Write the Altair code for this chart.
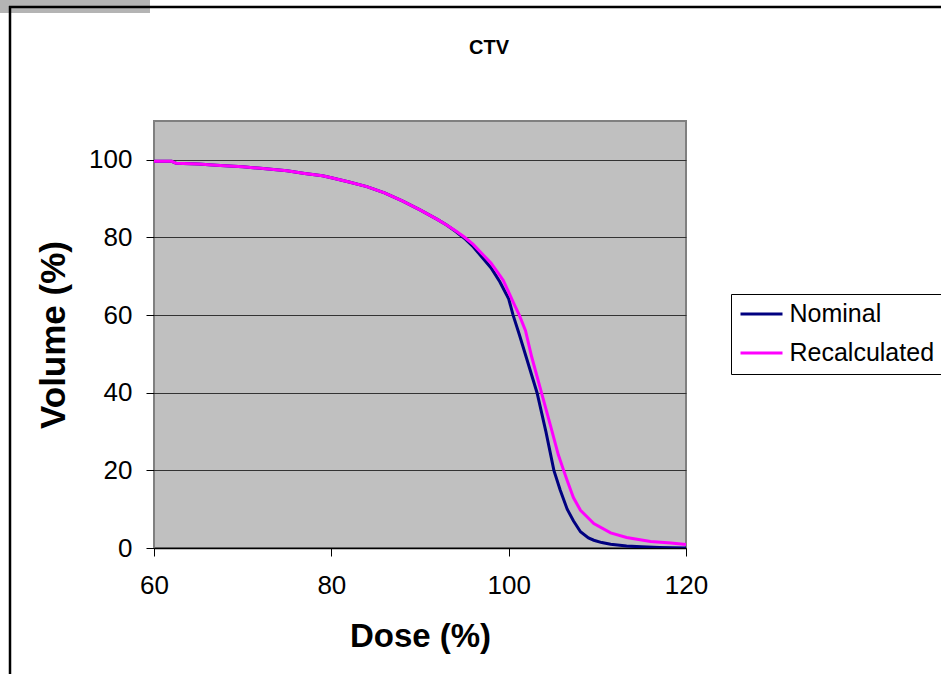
import altair as alt
import pandas as pd

# ---- data ----
nominal_dose = [60, 62, 62.5, 65, 67, 70, 72, 75, 77, 79, 80, 82, 84, 86, 88, 90, 92, 93, 94, 95,
                96, 97, 98, 99, 100, 100.5, 101.2, 102.0, 103.2, 104.2, 105.1, 105.8, 106.6, 107.3,
                108.1, 109.0, 109.6, 110.5, 111.5, 113.3, 115, 117, 118.5, 120]
nominal_vol = [99.6, 99.6, 99.1, 98.9, 98.6, 98.2, 97.8, 97.2, 96.5, 95.9, 95.4, 94.3, 93.1, 91.5,
               89.4, 87.1, 84.6, 83.2, 81.6, 79.8, 77.6, 74.9, 72.2, 68.6, 64.2, 60.0, 55.0, 49.0,
               40.0, 30.0, 20.0, 15.0, 10.0, 7.0, 4.2, 2.6, 2.0, 1.4, 0.95, 0.5, 0.3, 0.15, 0.05, 0.0]

recalc_dose = [60, 62, 62.5, 65, 67, 70, 72, 75, 77, 79, 80, 82, 84, 86, 88, 90, 92, 93, 94, 95,
               96, 97, 98, 99, 99.4, 100.6, 101.2, 101.9, 102.6, 103.7, 104.9, 105.6, 106.2, 106.6,
               107.3, 108.1, 109.6, 111.5, 113.3, 116.0, 118.3, 120]
recalc_vol = [99.6, 99.6, 99.1, 98.9, 98.6, 98.2, 97.8, 97.2, 96.5, 95.9, 95.4, 94.3, 93.1, 91.5,
              89.4, 87.1, 84.6, 83.2, 81.7, 80.1, 78.2, 75.8, 73.4, 70.2, 68.9, 62.9, 60.0, 56.0,
              49.2, 40.0, 30.0, 24.0, 20.0, 17.4, 13.0, 9.7, 6.3, 3.9, 2.7, 1.7, 1.3, 0.9]

series_names = ["Nominal", "Recalculated"]
series_colors = ["#000080", "#FF00FF"]
x_ticks = [60, 80, 100, 120]
y_ticks = [0, 20, 40, 60, 80, 100]
chart_title = "CTV"

df = pd.concat([
    pd.DataFrame({"dose": nominal_dose, "vol": nominal_vol, "series": "Nominal", "ord": range(len(nominal_dose))}),
    pd.DataFrame({"dose": recalc_dose, "vol": recalc_vol, "series": "Recalculated", "ord": range(len(recalc_dose))}),
])

FONT = "Liberation Sans"
W, H = 532, 427

lines = alt.Chart(df).mark_line(strokeWidth=3, clip=True).encode(
    x=alt.X("dose:Q", scale=alt.Scale(domain=[60, 120], nice=False, zero=False),
            axis=alt.Axis(values=x_ticks, title="Dose (%)", grid=False,
                          domain=True, domainColor="black", domainWidth=1.5,
                          tickColor="black", tickSize=8, tickWidth=1,
                          labelFont=FONT, labelFontSize=26, labelColor="black", labelPadding=16,
                          labelFlush=False, labelOverlap=False,
                          titleFont=FONT, titleFontSize=33, titleFontWeight="bold", titleColor="black",
                          titleX=W / 2, titleY=88, titleBaseline="middle", titleAlign="center")),
    y=alt.Y("vol:Q", scale=alt.Scale(domain=[0, 110], nice=False),
            axis=alt.Axis(values=y_ticks, title="Volume (%)", grid=True, gridColor="#333333", gridWidth=1,
                          domain=False, tickColor="black", tickSize=8, tickWidth=1,
                          labelFont=FONT, labelFontSize=26, labelColor="black", labelPadding=14,
                          labelFlush=False, labelOverlap=False,
                          titleFont=FONT, titleFontSize=35, titleFontWeight="bold", titleColor="black",
                          titleAngle=-90, titleX=-101, titleY=H / 2, titleBaseline="middle",
                          titleAlign="center")),
    color=alt.Color("series:N", scale=alt.Scale(domain=series_names, range=series_colors),
                    legend=alt.Legend(title=None, orient="none", legendX=577, legendY=173,
                                      symbolType="M-1,0H3", symbolStrokeWidth=3, symbolSize=441,
                                      symbolFillColor="transparent",
                                      labelFont=FONT, labelFontSize=25, labelColor="black",
                                      labelOffset=26, rowPadding=13, padding=7.5,
                                      strokeColor="black", fillColor="white")),
    order="ord:Q",
)

frame_data = alt.Data(values=[{"k": 1}])
gray_block = alt.Chart(frame_data).mark_rect(color="#B4B4B4").encode(
    x=alt.value(-154), x2=alt.value(-4), y=alt.value(-121), y2=alt.value(-108))
left_border = alt.Chart(frame_data).mark_rule(color="black", strokeWidth=2.5).encode(
    x=alt.value(-144), y=alt.value(-115), y2=alt.value(560))
top_border = alt.Chart(frame_data).mark_rule(color="black", strokeWidth=2.5).encode(
    x=alt.value(-145), x2=alt.value(800), y=alt.value(-114))
title_text = alt.Chart(frame_data).mark_text(
    text=chart_title, font=FONT, fontSize=20, fontWeight="bold", color="black",
    align="center", baseline="middle").encode(
    x=alt.value(335), y=alt.value(-73))

chart = alt.layer(gray_block, left_border, top_border, title_text, lines).properties(
    width=W, height=H,
    padding={"left": 154, "top": 121, "right": 255, "bottom": 126},
    autosize=alt.AutoSizeParams(type="none"),
    background="white",
).configure_view(
    fill="#C0C0C0", stroke="#808080", strokeWidth=2
)

chart.save("out.html", embed_options={"renderer": "svg", "actions": False})
